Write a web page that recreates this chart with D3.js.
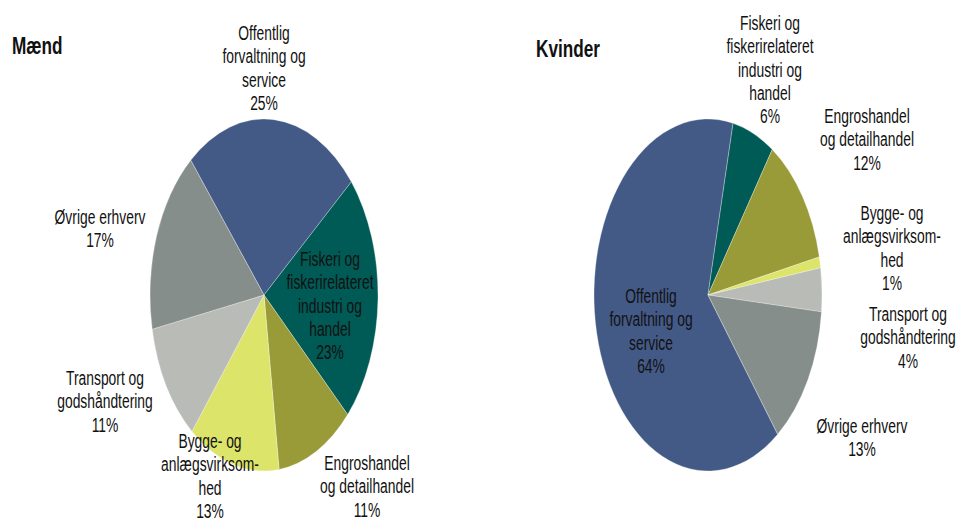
<!DOCTYPE html>
<html>
<head>
<meta charset="utf-8">
<script src="https://cdn.jsdelivr.net/npm/d3@7"></script>
<style>
	body { margin: 0; background: #ffffff; }
	svg text { font-family: "Liberation Sans", Arial, sans-serif; fill: #111111; }
</style>
</head>
<body>
<div id="chart"></div>
<script>

	///////////////////////////////////////////////////////////////////////////
	//////////////////////////////// The data /////////////////////////////////
	///////////////////////////////////////////////////////////////////////////

	var categories = ["Offentlig forvaltning og service", "Fiskeri og fiskerirelateret industri og handel",
					  "Engroshandel og detailhandel", "Bygge- og anlægsvirksomhed",
					  "Transport og godshåndtering", "Øvrige erhverv"];
	var labelLines = [["Offentlig", "forvaltning og", "service"],
					  ["Fiskeri og", "fiskerirelateret", "industri og", "handel"],
					  ["Engroshandel", "og detailhandel"],
					  ["Bygge- og", "anlægsvirksom-", "hed"],
					  ["Transport og", "godshåndtering"],
					  ["Øvrige erhverv"]];
	var maend = [25, 23, 11, 13, 11, 17];
	var kvinder = [64, 6, 12, 1, 4, 13];
	var titles = ["Mænd", "Kvinder"];

	var colors = ["#435A87", "#005A55", "#999B38", "#DCE469", "#B9BBB7", "#868E8B"];

	///////////////////////////////////////////////////////////////////////////
	///////////////////////////////// Layout //////////////////////////////////
	///////////////////////////////////////////////////////////////////////////

	var width = 958,
		height = 520;

	var rx = 114,
		ry = 176,
		lineHeight = 23.3,
		textScale = [0.84, 1.25]; //the original picture is condensed and stretched

	//x centre and first baseline of each label, in category order
	var pies = [
		{ title: titles[0], values: maend, cx: 264, cy: 295, start: -40, titleX: 12, titleY: 54,
		  labelPos: [[264, 40], [330, 266], [367, 470], [210, 448], [105, 385], [100, 224]] },
		{ title: titles[1], values: kvinder, cx: 708, cy: 295, start: 142.3, titleX: 536, titleY: 57,
		  labelPos: [[651, 303], [770, 30], [867, 123], [892, 220], [908, 321], [862, 433]] }
	];

	var svg = d3.select("#chart").append("svg")
		.attr("width", width)
		.attr("height", height);

	var arc = d3.arc()
		.innerRadius(0)
		.outerRadius(rx);

	pies.forEach(function(p) {

		var pie = d3.pie()
			.sort(null)
			.value(function(d) { return d; })
			.startAngle(p.start * Math.PI / 180)
			.endAngle((p.start + 360) * Math.PI / 180);

		//Slices, drawn on a circle and stretched to the ellipse
		var g = svg.append("g")
			.attr("transform", "translate(" + p.cx + "," + p.cy + ") scale(1," + (ry / rx) + ")");

		g.selectAll(".slice")
			.data(pie(p.values))
			.enter().append("path")
			.attr("class", "slice")
			.attr("d", arc)
			.style("fill", function(d, i) { return colors[i]; })
			.style("stroke", "#ffffff")
			.style("stroke-width", "0.5px")
			.style("stroke-opacity", 0.6)
			.attr("vector-effect", "non-scaling-stroke");

		//Title
		svg.append("text")
			.attr("transform", "translate(" + p.titleX + "," + p.titleY + ") scale(0.86,1.15)")
			.style("font-size", "20px")
			.style("font-weight", "bold")
			.text(p.title);

		//Data labels
		p.values.forEach(function(v, i) {
			var lines = labelLines[i].concat([v + "%"]);
			var pos = p.labelPos[i];
			var t = svg.append("text")
				.attr("class", "label")
				.attr("transform", "translate(" + pos[0] + "," + pos[1] + ") scale(" + textScale.join(",") + ")")
				.attr("text-anchor", "middle")
				.style("font-size", "16.5px");
			t.selectAll("tspan")
				.data(lines)
				.enter().append("tspan")
				.attr("x", 0)
				.attr("y", function(d, j) { return j * lineHeight / textScale[1]; })
				.text(function(d) { return d; });
		});

	});

</script>
</body>
</html>
